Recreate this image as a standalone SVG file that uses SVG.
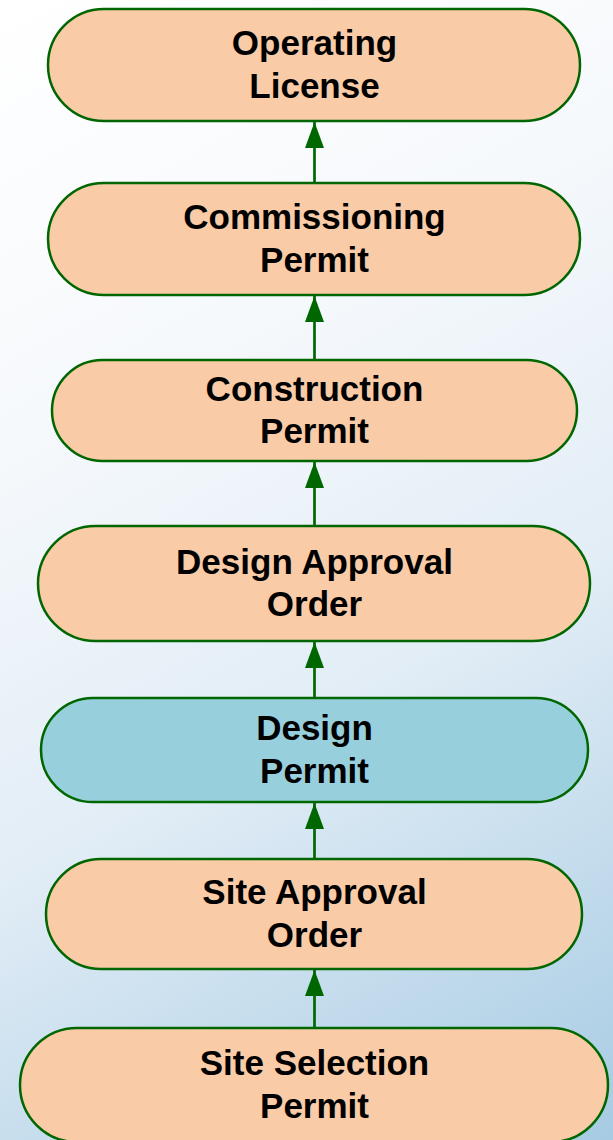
<svg xmlns="http://www.w3.org/2000/svg" width="613" height="1140" viewBox="0 0 613 1140">
  <defs>
    <linearGradient id="bg" gradientUnits="userSpaceOnUse" x1="0" y1="0" x2="613" y2="1140">
      <stop offset="0" stop-color="#FFFFFF"/>
      <stop offset="0.3" stop-color="#F6F9FC"/>
      <stop offset="0.6" stop-color="#E2EDF6"/>
      <stop offset="1" stop-color="#A6CBE3"/>
    </linearGradient>
    <marker id="arrow" markerUnits="userSpaceOnUse" markerWidth="26" markerHeight="19" refX="26" refY="9.5" orient="auto" viewBox="0 0 26 19">
      <polygon points="0,0 26,9.5 0,19" fill="#006600"/>
    </marker>
    <style>
      .node { stroke: #006600; stroke-width: 2.5; }
      .peach { fill: #F9CBA7; }
      .blue { fill: #97D0DC; }
      .lbl { font-family: "Liberation Sans", Arial, sans-serif; font-weight: bold; font-size: 35px; fill: #000000; text-anchor: middle; }
      .conn { stroke: #006600; stroke-width: 2.7; fill: none; }
    </style>
  </defs>
  <rect x="0" y="0" width="613" height="1140" fill="url(#bg)"/>

  <g id="connectors">
    <line class="conn" x1="314.5" y1="183" x2="314.5" y2="122" marker-end="url(#arrow)"/>
    <line class="conn" x1="314.5" y1="360" x2="314.5" y2="296" marker-end="url(#arrow)"/>
    <line class="conn" x1="314.5" y1="526" x2="314.5" y2="462" marker-end="url(#arrow)"/>
    <line class="conn" x1="314.5" y1="698" x2="314.5" y2="642" marker-end="url(#arrow)"/>
    <line class="conn" x1="314.5" y1="859" x2="314.5" y2="803" marker-end="url(#arrow)"/>
    <line class="conn" x1="314.5" y1="1028" x2="314.5" y2="970" marker-end="url(#arrow)"/>
  </g>

  <g id="node-operating-license">
    <rect class="node peach" x="48" y="9" width="532" height="112" rx="56" ry="56"/>
    <text class="lbl" x="314.5" y="55">Operating</text>
    <text class="lbl" x="314.5" y="97.5">License</text>
  </g>
  <g id="node-commissioning-permit">
    <rect class="node peach" x="48" y="183" width="532" height="112" rx="56" ry="56"/>
    <text class="lbl" x="314.5" y="229">Commissioning</text>
    <text class="lbl" x="314.5" y="271.5">Permit</text>
  </g>
  <g id="node-construction-permit">
    <rect class="node peach" x="52" y="360" width="525" height="101" rx="50.5" ry="50.5"/>
    <text class="lbl" x="314.5" y="400.5">Construction</text>
    <text class="lbl" x="314.5" y="443">Permit</text>
  </g>
  <g id="node-design-approval-order">
    <rect class="node peach" x="38" y="526" width="552" height="115" rx="57.5" ry="57.5"/>
    <text class="lbl" x="314.5" y="573.5">Design Approval</text>
    <text class="lbl" x="314.5" y="616">Order</text>
  </g>
  <g id="node-design-permit">
    <rect class="node blue" x="41" y="698" width="547" height="104" rx="52" ry="52"/>
    <text class="lbl" x="314.5" y="740">Design</text>
    <text class="lbl" x="314.5" y="782.5">Permit</text>
  </g>
  <g id="node-site-approval-order">
    <rect class="node peach" x="46" y="859" width="536" height="110" rx="55" ry="55"/>
    <text class="lbl" x="314.5" y="904">Site Approval</text>
    <text class="lbl" x="314.5" y="946.5">Order</text>
  </g>
  <g id="node-site-selection-permit">
    <rect class="node peach" x="20" y="1028" width="588" height="114" rx="57" ry="57"/>
    <text class="lbl" x="314.5" y="1075">Site Selection</text>
    <text class="lbl" x="314.5" y="1117.5">Permit</text>
  </g>
</svg>
